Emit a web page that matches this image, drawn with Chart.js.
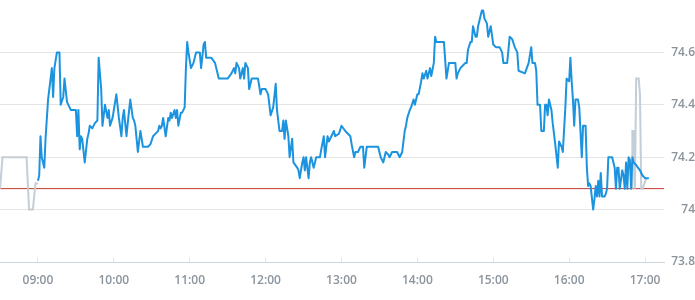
<!DOCTYPE html>
<html>
<head>
<meta charset="utf-8">
<script src="https://cdn.jsdelivr.net/npm/chart.js@4.4.1/dist/chart.umd.min.js"></script>
<style>
  html, body { margin: 0; padding: 0; background: #fff; }
  #wrap { width: 695px; height: 300px; position: relative; }
</style>
</head>
<body>
<div id="wrap"><canvas id="chart"></canvas></div>
<script>
// regular session
const sessionTimes = [
  '09:00','09:01','09:02','09:03','09:05','09:06','09:08','09:09','09:11','09:12',
  '09:13','09:15','09:17','09:18','09:20','09:21','09:23','09:25','09:26','09:30',
  '09:31','09:32','09:33','09:34','09:35','09:37','09:39','09:40','09:41','09:43',
  '09:45','09:47','09:48','09:50','09:51','09:53','09:55','09:56','09:57','09:59',
  '10:01','10:02','10:04','10:06','10:07','10:08','10:10','10:11','10:13','10:15',
  '10:16','10:17','10:19','10:21','10:23','10:27','10:29','10:31','10:33','10:35',
  '10:36','10:37','10:38','10:39','10:41','10:43','10:44','10:45','10:46','10:48',
  '10:49','10:50','10:51','10:53','10:54','10:56','10:57','10:58','10:59','11:01',
  '11:03','11:05','11:08','11:09','11:11','11:12','11:13','11:17','11:20','11:23',
  '11:30','11:33','11:35','11:36','11:37','11:39','11:40','11:42','11:43','11:44',
  '11:46','11:47','11:49','11:54','11:56','11:57','12:00','12:02','12:03','12:04',
  '12:06','12:08','12:09','12:11','12:13','12:14','12:15','12:16','12:18','12:19',
  '12:21','12:22','12:25','12:26','12:27','12:29','12:30','12:31','12:32','12:34',
  '12:35','12:36','12:38','12:40','12:43','12:44','12:46','12:47','12:49','12:50',
  '12:52','12:54','12:55','12:58','13:00','13:03','13:07','13:08','13:10','13:11',
  '13:13','13:15','13:17','13:18','13:20','13:29','13:31','13:33','13:35','13:37',
  '13:38','13:40','13:44','13:46','13:48','13:50','13:51','13:52','13:54','13:55',
  '13:57','13:58','14:00','14:01','14:03','14:04','14:05','14:07','14:08','14:10',
  '14:11','14:13','14:14','14:15','14:21','14:23','14:25','14:30','14:31','14:32',
  '14:34','14:36','14:38','14:39','14:40','14:42','14:43','14:44','14:46','14:47',
  '14:48','14:50','14:51','14:52','14:53','14:55','14:56','14:58','15:00','15:02',
  '15:05','15:07','15:08','15:11','15:13','15:15','15:17','15:19','15:20','15:25',
  '15:28','15:30','15:31','15:33','15:34','15:35','15:37','15:38','15:40','15:41',
  '15:42','15:43','15:44','15:46','15:47','15:49','15:51','15:52','15:54','15:55',
  '15:57','15:58','16:00','16:01','16:02','16:03','16:04','16:05','16:07','16:08',
  '16:10','16:11','16:13','16:14','16:15','16:16','16:17','16:19','16:20','16:21',
  '16:22','16:23','16:24','16:25','16:26','16:28','16:29','16:30','16:31','16:34',
  '16:36','16:37','16:38','16:39','16:40','16:42','16:43','16:44','16:45','16:46',
  '16:47','16:48','16:49','16:50','16:51','16:53','16:56','16:58','17:00','17:03'
];
const sessionPrices = [
  74.11,74.13,74.28,74.20,74.16,74.27,74.42,74.46,74.54,74.43,
  74.54,74.60,74.60,74.40,74.43,74.50,74.41,74.39,74.38,74.38,
  74.28,74.38,74.23,74.28,74.27,74.18,74.27,74.29,74.32,74.31,
  74.33,74.34,74.58,74.46,74.32,74.40,74.35,74.38,74.32,74.35,
  74.41,74.44,74.35,74.28,74.35,74.38,74.28,74.33,74.42,74.35,
  74.34,74.32,74.22,74.30,74.24,74.24,74.25,74.28,74.29,74.30,
  74.32,74.31,74.32,74.35,74.28,74.35,74.34,74.37,74.35,74.38,
  74.35,74.38,74.32,74.37,74.37,74.39,74.54,74.64,74.60,74.54,
  74.56,74.60,74.60,74.54,74.63,74.64,74.58,74.58,74.56,74.50,
  74.50,74.52,74.54,74.52,74.56,74.54,74.50,74.54,74.50,74.56,
  74.54,74.46,74.50,74.50,74.44,74.46,74.46,74.44,74.40,74.36,
  74.39,74.48,74.38,74.30,74.30,74.34,74.27,74.34,74.28,74.20,
  74.27,74.18,74.16,74.15,74.12,74.18,74.20,74.15,74.20,74.12,
  74.18,74.20,74.16,74.20,74.20,74.23,74.28,74.20,74.28,74.26,
  74.28,74.30,74.28,74.29,74.32,74.30,74.28,74.25,74.20,74.22,
  74.22,74.24,74.24,74.16,74.24,74.24,74.20,74.18,74.22,74.21,
  74.20,74.22,74.22,74.20,74.22,74.30,74.32,74.35,74.38,74.39,
  74.42,74.40,74.44,74.44,74.49,74.52,74.50,74.53,74.50,74.54,
  74.51,74.56,74.66,74.64,74.64,74.50,74.56,74.56,74.50,74.52,
  74.54,74.55,74.56,74.56,74.61,74.64,74.64,74.70,74.66,74.66,
  74.70,74.74,74.76,74.76,74.73,74.71,74.66,74.70,74.63,74.62,
  74.62,74.60,74.56,74.56,74.66,74.65,74.62,74.60,74.53,74.52,
  74.56,74.62,74.56,74.56,74.53,74.40,74.40,74.30,74.30,74.40,
  74.40,74.36,74.42,74.38,74.33,74.25,74.16,74.26,74.24,74.22,
  74.39,74.50,74.49,74.58,74.49,74.42,74.32,74.42,74.42,74.39,
  74.20,74.32,74.32,74.16,74.09,74.10,74.09,74.00,74.04,74.09,
  74.05,74.11,74.05,74.14,74.05,74.05,74.06,74.08,74.20,74.20,
  74.16,74.08,74.16,74.16,74.08,74.15,74.13,74.08,74.18,74.08,
  74.20,74.19,74.08,74.20,74.18,74.17,74.15,74.13,74.12,74.12
];

// pre / post market
const preTimes = ['08:30','08:32','08:51','08:53','08:56','08:58','09:00'];
const prePrices = [74.08, 74.20, 74.20, 74.00, 74.00, 74.10, 74.10];
const postTimes = ['16:50','16:50','16:51','16:52','16:53','16:55','16:56','16:57','16:58','17:01'];
const postPrices = [74.08, 74.30, 74.30, 74.08, 74.50, 74.50, 74.44, 74.08, 74.08, 74.12];

const prevClose = 74.08;

const xTickLabels = ['09:00','10:00','11:00','12:00','13:00','14:00','15:00','16:00','17:00'];
const yTicks = [73.8, 74, 74.2, 74.4, 74.6];
const xStart = '08:30';
const xEnd = '17:15';

function toMin(s) {
    const parts = s.split(':');
    return parseInt(parts[0], 10) * 60 + parseInt(parts[1], 10);
}
function toLabel(m) {
    const h = Math.floor(m / 60);
    const mm = m % 60;
    return String(h).padStart(2, '0') + ':' + String(mm).padStart(2, '0');
}
function points(times, prices) {
    return times.map((t, i) => ({ x: toMin(t), y: prices[i] }));
}

const labelColor = '#8b949d';
Chart.defaults.font.family = '"Open Sans", sans-serif';

new Chart(document.getElementById('chart'), {
    type: 'line',
    data: {
        datasets: [
            {
                data: points(sessionTimes, sessionPrices),
                borderColor: '#1b93df',
                borderWidth: 2,
                pointRadius: 0,
                tension: 0,
                borderJoinStyle: 'round'
            },
            {
                data: points(preTimes, prePrices),
                borderColor: '#c4ced6',
                borderWidth: 2,
                pointRadius: 0,
                tension: 0
            },
            {
                data: points(postTimes, postPrices),
                borderColor: '#c4ced6',
                borderWidth: 2,
                pointRadius: 0,
                tension: 0
            },
            {
                data: [{ x: toMin(xStart), y: prevClose }, { x: toMin(xEnd), y: prevClose }],
                borderColor: '#c9362f',
                borderWidth: 1,
                pointRadius: 0
            }
        ]
    },
    options: {
        responsive: true,
        maintainAspectRatio: false,
        animation: false,
        layout: { padding: 0 },
        scales: {
            x: {
                type: 'linear',
                min: toMin(xStart),
                max: toMin(xEnd),
                afterBuildTicks: (scale) => {
                    scale.ticks = xTickLabels.map(l => ({ value: toMin(l) }));
                },
                afterFit: (scale) => {
                    scale.height = 38;
                    scale.paddingLeft = 0;
                    scale.paddingRight = 0;
                },
                ticks: {
                    color: labelColor,
                    font: { size: 12, weight: '600' },
                    padding: 16,
                    maxRotation: 0,
                    autoSkip: false,
                    callback: (v) => toLabel(v)
                },
                grid: {
                    drawOnChartArea: false,
                    drawTicks: true,
                    tickLength: -5,
                    color: '#e3e7ea'
                },
                border: { display: true, color: '#ccd5dc', width: 1 }
            },
            y: {
                position: 'right',
                min: 73.8,
                max: 74.8,
                afterBuildTicks: (scale) => {
                    scale.ticks = yTicks.map(v => ({ value: v }));
                },
                afterFit: (scale) => {
                    scale.width = 31;
                    scale.paddingTop = 0;
                    scale.paddingBottom = 0;
                },
                ticks: {
                    color: labelColor,
                    font: { size: 12, weight: '600' },
                    padding: 9,
                    crossAlign: 'far',
                    callback: (v) => String(+v.toFixed(1))
                },
                grid: {
                    color: '#e4e4e4',
                    drawTicks: false
                },
                border: { display: false }
            }
        },
        plugins: {
            legend: { display: false },
            tooltip: { enabled: false }
        }
    }
});
</script>
</body>
</html>
